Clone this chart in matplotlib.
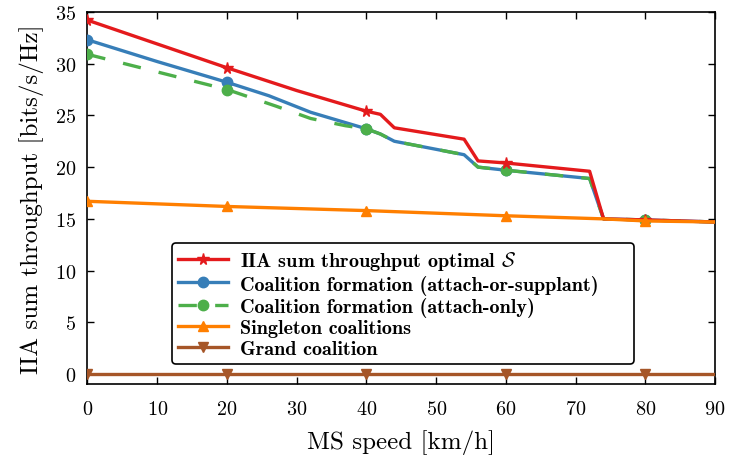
import numpy as np
import matplotlib.pyplot as plt

plt.rcParams['font.family'] = 'cmr10'
plt.rcParams['mathtext.fontset'] = 'cm'
plt.rcParams['axes.formatter.use_mathtext'] = True

# data
x_opt = [0, 10, 20, 30, 40, 42, 44, 54, 56, 60, 72, 74, 80, 90]
y_opt = [34.2, 31.9, 29.6, 27.4, 25.4, 25.1, 23.8, 22.7, 20.6, 20.4, 19.6, 15.0, 14.9, 14.7]

x_aos = [0, 10, 20, 26, 32, 40, 42, 44, 54, 56, 60, 72, 74, 80, 90]
y_aos = [32.3, 30.2, 28.2, 26.9, 25.3, 23.7, 23.2, 22.5, 21.2, 20.0, 19.7, 18.9, 15.0, 14.9, 14.7]

x_ao = [0, 10, 20, 27, 32, 37, 40, 42, 44, 54, 56, 60, 72, 74, 80, 90]
y_ao = [30.9, 29.2, 27.5, 25.9, 24.7, 24.0, 23.7, 23.2, 22.5, 21.2, 20.0, 19.7, 18.9, 15.0, 14.9, 14.7]

x_single = [0, 20, 40, 60, 74, 80, 90]
y_single = [16.7, 16.2, 15.8, 15.3, 15.0, 14.8, 14.7]

x_grand = [0, 20, 40, 60, 80, 90]
y_grand = [0, 0, 0, 0, 0, 0]

marker_x = [0, 20, 40, 60, 80]


def marks(xs):
    return [i for i, v in enumerate(xs) if v in marker_x]


fig = plt.figure(figsize=(7.29, 4.6), dpi=100)
ax = fig.add_axes([0.120, 0.162, 0.861, 0.810])

lw = 2.4
ax.plot(x_opt, y_opt, color='#e41a1c', lw=lw, marker='*', ms=8.5,
        markevery=marks(x_opt), label=r'IIA sum throughput optimal $\mathcal{S}$', zorder=5)
ax.plot(x_aos, y_aos, color='#377eb8', lw=lw, marker='o', ms=7.5,
        markevery=marks(x_aos), label='Coalition formation (attach-or-supplant)', zorder=4)
ax.plot(x_ao, y_ao, color='#4daf4a', lw=lw, ls=(0, (5.5, 5.5)), marker='o', ms=7.5,
        markevery=marks(x_ao), label='Coalition formation (attach-only)', zorder=4)
ax.plot(x_single, y_single, color='#ff7f00', lw=lw, marker='^', ms=7.5,
        markevery=marks(x_single), label='Singleton coalitions', zorder=6)
ax.plot(x_grand, y_grand, color='#a65628', lw=lw, marker='v', ms=7.5,
        markevery=marks(x_grand), label='Grand coalition', zorder=6)

ax.set_xlim(0, 90)
ax.set_ylim(-1, 35)
ax.set_xticks(range(0, 91, 10))
ax.set_yticks(range(0, 36, 5))
ax.tick_params(direction='in', top=True, right=True, length=5, width=1, labelsize=14.5)
ax.tick_params(axis='x', pad=11)
ax.tick_params(axis='y', pad=8)
for s in ax.spines.values():
    s.set_linewidth(1.2)

ax.set_xlabel('MS speed [km/h]', fontsize=18, labelpad=8)
ax.set_ylabel('IIA sum throughput [bits/s/Hz]', fontsize=18, labelpad=8)

leg = ax.legend(loc='lower left', bbox_to_anchor=(0.134, 0.055, 0.737, 0.322), mode='expand',
                borderaxespad=0, prop={'family': 'cmb10', 'size': 14.5}, handlelength=2.5,
                handletextpad=0.6, labelspacing=0.12, borderpad=0.3,
                fancybox=True, framealpha=1, edgecolor='black')
leg.get_frame().set_linewidth(1.2)

fig.savefig('out.png', dpi=100)
